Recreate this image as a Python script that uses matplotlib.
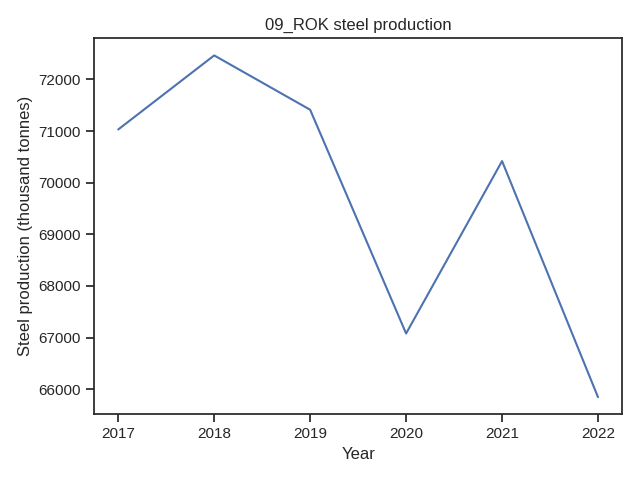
import matplotlib
matplotlib.use('Agg')
import matplotlib.pyplot as plt
import seaborn as sns

# Données : production d'acier (Corée du Sud)
annees = [2017, 2018, 2019, 2020, 2021, 2022]
production = [71030, 72464, 71412, 67079, 70418, 65846]

sns.set_theme(style='ticks')
plt.rcParams['font.family'] = ['Liberation Sans', 'DejaVu Sans']

fig, ax = plt.subplots(figsize=(6.4, 4.8), dpi=100)
ax.plot(annees, production, color='#4c72b0', linewidth=1.5)
ax.set_title("09_ROK steel production")
ax.set_xlabel("Year")
ax.set_ylabel("Steel production (thousand tonnes)")
fig.tight_layout()
fig.savefig('out.png')
